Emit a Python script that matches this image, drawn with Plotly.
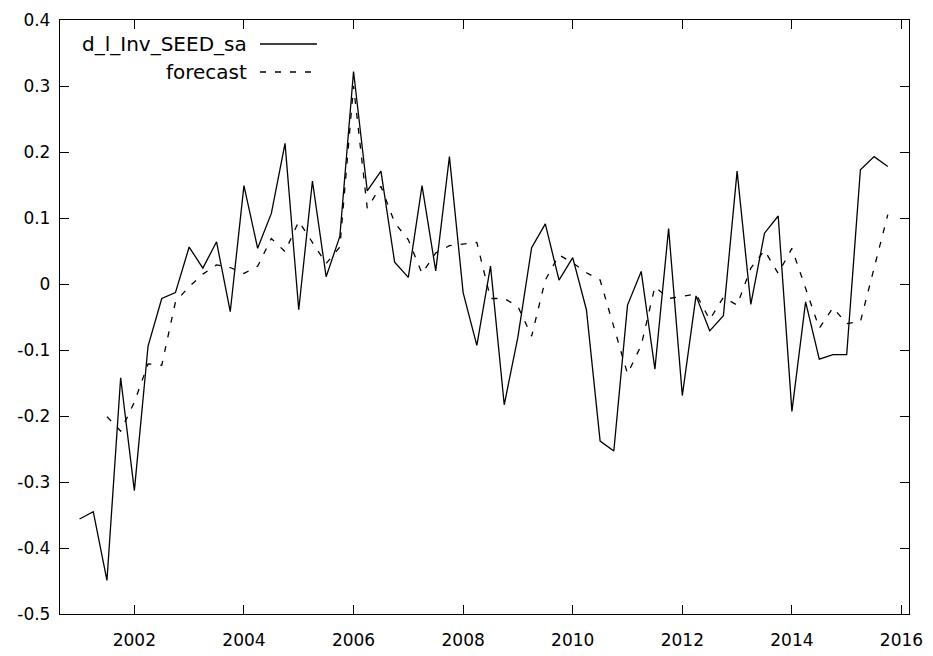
import plotly.graph_objects as go

start_year = 2001.0
actual = [-0.356, -0.345, -0.449, -0.142, -0.313, -0.094, -0.022, -0.013,
          0.056, 0.024, 0.064, -0.042, 0.149, 0.054, 0.107, 0.213,
          -0.039, 0.156, 0.011, 0.072, 0.322, 0.141, 0.171, 0.033,
          0.010, 0.149, 0.020, 0.193, -0.013, -0.093, 0.027, -0.183,
          -0.080, 0.055, 0.091, 0.006, 0.040, -0.039, -0.238, -0.253,
          -0.032, 0.019, -0.129, 0.084, -0.169, -0.018, -0.071, -0.048,
          0.171, -0.031, 0.077, 0.103, -0.193, -0.027, -0.114, -0.107,
          -0.107, 0.173, 0.193, 0.178]
forecast = [None, None, -0.201, -0.223, -0.179, -0.121, -0.123, -0.027,
            -0.004, 0.015, 0.029, 0.025, 0.016, 0.027, 0.069, 0.049,
            0.095, 0.063, 0.031, 0.056, 0.300, 0.115, 0.148, 0.093,
            0.067, 0.016, 0.047, 0.058, 0.060, 0.063, -0.022, -0.022,
            -0.034, -0.079, 0.006, 0.044, 0.032, 0.017, 0.006, -0.065,
            -0.136, -0.093, -0.004, -0.022, -0.018, -0.015, -0.054, -0.020,
            -0.032, 0.024, 0.051, 0.016, 0.054, -0.007, -0.067, -0.036,
            -0.060, -0.057, 0.025, 0.105]
x = [start_year + 0.25 * i for i in range(len(actual))]

xtick_vals = [2002, 2004, 2006, 2008, 2010, 2012, 2014, 2016]
xtick_text = ["2002", "2004", "2006", "2008", "2010", "2012", "2014", "2016"]
ytick_vals = [0.4, 0.3, 0.2, 0.1, 0.0, -0.1, -0.2, -0.3, -0.4, -0.5]
ytick_text = ["0.4", "0.3", "0.2", "0.1", "0", "-0.1", "-0.2", "-0.3", "-0.4", "-0.5"]
series_names = ["d_l_Inv_SEED_sa", "forecast"]

FONT = "DejaVu Sans"
W, H = 933, 656
L, R, T, B = 60, 24, 20, 42
DASH = "6px,9px"

fig = go.Figure()
fig.add_trace(go.Scatter(x=x, y=actual, mode="lines", name=series_names[0],
                         line=dict(color="black", width=1.3), showlegend=False))
fig.add_trace(go.Scatter(x=x, y=forecast, mode="lines", name=series_names[1],
                         line=dict(color="black", width=1.3, dash=DASH),
                         showlegend=False))

pw, ph = W - L - R, H - T - B
def px(xp):
    return (xp - L) / pw
def py(yp):
    return 1 - (yp - T) / ph

# custom gnuplot-style legend (text right, sample line to the right)
rows = [(44, "solid"), (72, DASH)]
for (yrow, dash), name in zip(rows, series_names):
    fig.add_annotation(x=px(249), y=py(yrow), xref="paper", yref="paper",
                       text=name, showarrow=False, xanchor="right", yanchor="middle",
                       font=dict(family=FONT, size=20, color="black"))
    fig.add_shape(type="line", xref="paper", yref="paper",
                  x0=px(260), x1=px(317), y0=py(yrow), y1=py(yrow),
                  line=dict(color="black", width=1.3, dash=dash))

axis_common = dict(showgrid=False, zeroline=False, showline=True, linecolor="black",
                   linewidth=1.3, mirror="ticks", ticks="inside", ticklen=9,
                   tickwidth=1, tickcolor="black", automargin=False,
                   tickfont=dict(family=FONT, size=17, color="black"))
fig.update_xaxes(range=[2000.643, 2016.137], tickvals=xtick_vals, ticktext=xtick_text,
                 ticklabelstandoff=10, **axis_common)
fig.update_yaxes(range=[-0.5, 0.4], tickvals=ytick_vals, ticktext=ytick_text,
                 ticklabelstandoff=5, **axis_common)
fig.update_layout(width=W, height=H, margin=dict(l=L, r=R, t=T, b=B),
                  plot_bgcolor="white", paper_bgcolor="white",
                  font=dict(family=FONT, size=17, color="black"))
fig.write_html("out.html")
